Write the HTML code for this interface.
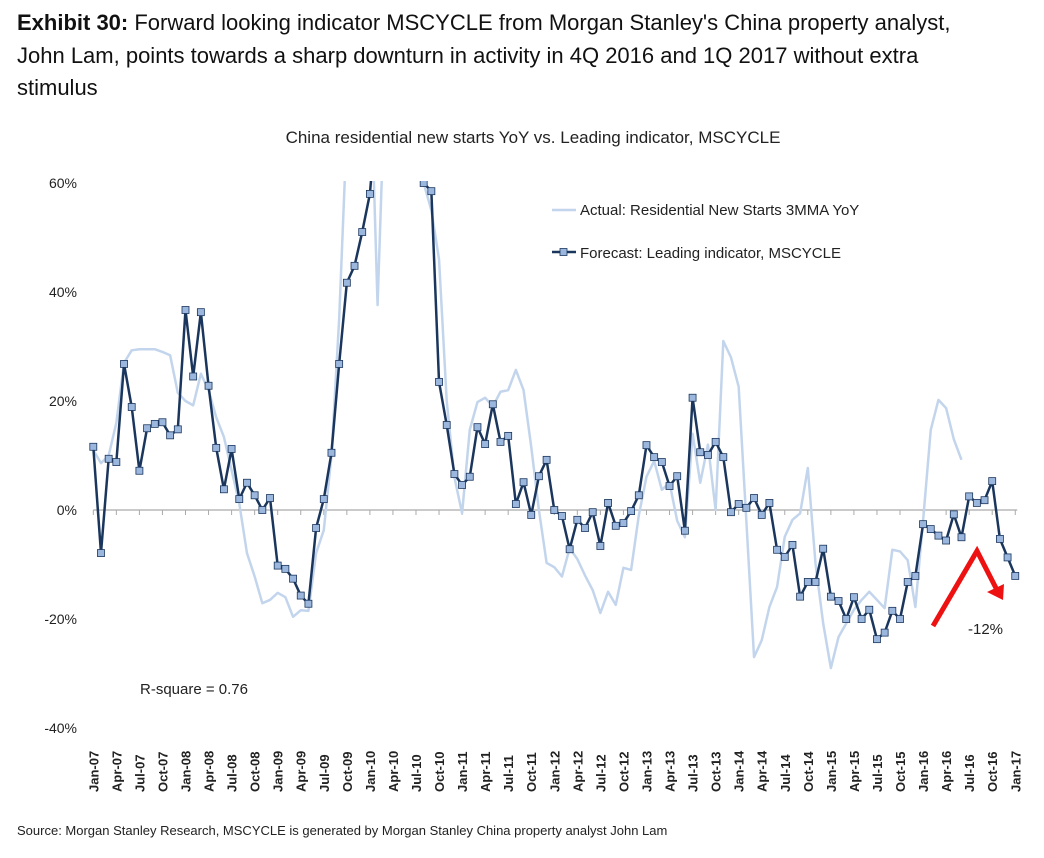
<!DOCTYPE html>
<html><head><meta charset="utf-8"><style>
body{margin:0;background:#fff;}
svg{display:block;font-family:"Liberation Sans",sans-serif;}
</style></head><body>
<svg id="chart" width="1044" height="858" viewBox="0 0 1044 858" xmlns="http://www.w3.org/2000/svg">
<defs><clipPath id="plotclip"><rect x="80" y="181" width="960" height="560"/></clipPath></defs>
<g font-size="22" fill="#111">
<text x="17" y="30"><tspan font-weight="bold">Exhibit 30:</tspan> Forward looking indicator MSCYCLE from Morgan Stanley's China property analyst,</text>
<text x="17" y="63">John Lam, points towards a sharp downturn in activity in 4Q 2016 and 1Q 2017 without extra</text>
<text x="17" y="95">stimulus</text>
</g>
<text x="533" y="143" font-size="17" text-anchor="middle" fill="#222">China residential new starts YoY vs. Leading indicator, MSCYCLE</text>
<g id="yaxis"></g>
<g id="xaxis"></g>
<g id="series" clip-path="url(#plotclip)"></g>
<g>
<g><line x1="552" y1="210" x2="576" y2="210" stroke="#c3d5ec" stroke-width="2.5"/><text x="580" y="215" font-size="15" fill="#222">Actual: Residential New Starts 3MMA YoY</text></g>
<g><line x1="552" y1="252" x2="576" y2="252" stroke="#1b365d" stroke-width="2.5"/><rect x="560" y="248.5" width="7" height="7" fill="#9bb7de" stroke="#1b365d" stroke-width="0.8"/><text x="580" y="258" font-size="15" fill="#222">Forecast: Leading indicator, MSCYCLE</text></g>
</g>
<text x="140" y="694" font-size="15" fill="#222">R-square = 0.76</text>
<g stroke="#ee1111" stroke-width="5" fill="none" stroke-linecap="butt">
<polyline points="933,626 977,551 998,592"/>
<polygon points="1003,600 987,592 1004,584" fill="#ee1111" stroke="none"/>
</g>
<text x="968" y="634" font-size="15" fill="#222">-12%</text>
<text x="17" y="835" font-size="13" fill="#222">Source: Morgan Stanley Research, MSCYCLE is generated by Morgan Stanley China property analyst John Lam</text>
</svg>
<script>
const yTicks=[60,40,20,0,-20,-40];
const monthNames=["Jan","Feb","Mar","Apr","May","Jun","Jul","Aug","Sep","Oct","Nov","Dec"];
const startYear=2007;
const forecast=[11.6,-7.9,9.4,8.8,26.8,18.9,7.2,15.0,15.8,16.1,13.7,14.8,
36.7,24.5,36.3,22.8,11.4,3.8,11.2,2.0,5.0,2.7,0,2.2,
-10.2,-10.8,-12.6,-15.7,-17.2,-3.3,2.0,10.5,26.8,41.7,44.8,51,
58,75,85,85,85,85,75,60,58.5,23.5,15.6,6.6,
4.6,6.1,15.2,12.1,19.4,12.5,13.6,1.1,5.1,-0.9,6.2,9.2,
0,-1.1,-7.2,-1.8,-3.3,-0.4,-6.6,1.3,-2.9,-2.4,-0.2,2.7,
11.9,9.7,8.8,4.4,6.2,-3.8,20.6,10.6,10.1,12.5,9.7,-0.4,
1.1,0.4,2.2,-0.9,1.3,-7.3,-8.6,-6.4,-15.9,-13.2,-13.2,-7.1,
-15.9,-16.7,-20,-16,-20,-18.3,-23.7,-22.5,-18.5,-20,-13.2,-12.1,
-2.6,-3.5,-4.7,-5.6,-0.8,-5.0,2.5,1.3,1.8,5.3,-5.3,-8.7,
-12.1];
const actual=[11,8.6,10,16,27,29.3,29.5,29.5,29.5,29,28.4,21.5,
20,19.2,25,22,17,13.4,7.3,1.2,-7.9,-12.2,-17.1,-16.5,
-15.2,-16,-19.6,-18.4,-18.5,-7.9,-3.7,10,35,70,85,85,
85,37.6,80,85,85,85,85,60,55,46,20,6,
-0.6,14.7,19.8,20.6,19,21.7,22,25.7,22,11.6,0,-9.7,
-10.5,-12.2,-7,-9,-12,-14.7,-18.9,-15,-17.4,-10.6,-11,-1,
6.1,9,3.7,5,-2,-5,14,5,12,0,31,28,
22.6,-2,-27,-23.9,-17.8,-14.1,-4.9,-1.8,-0.6,7.7,-9.8,-20.8,
-29,-23.3,-20.8,-18.3,-16.5,-15,-16.5,-18,-7.3,-7.6,-9.2,-17.8,
-2,14.7,20.2,18.7,13,9.2];
const NS="http://www.w3.org/2000/svg";
const X0=93.3,DX=7.683,Y0=510,YS=5.45;
const xs=i=>X0+i*DX, ys=v=>Y0-v*YS;
function mk(tag,attrs,parent){const e=document.createElementNS(NS,tag);for(const k in attrs)e.setAttribute(k,attrs[k]);parent.appendChild(e);return e;}
const ya=document.getElementById('yaxis');
yTicks.forEach(v=>{const t=mk('text',{x:77,y:ys(v)+5,'font-size':14,'text-anchor':'end',fill:'#222'},ya);t.textContent=v+'%';

});
const xa=document.getElementById('xaxis');
const zl=mk('line',{x1:xs(0),x2:xs(forecast.length-1)+2,y1:ys(0),y2:ys(0),stroke:'#aaa','stroke-width':1.3},xa);


for(let i=0;i<forecast.length;i+=3){
 const tk=mk('line',{x1:xs(i),x2:xs(i),y1:ys(0),y2:ys(0)+5,stroke:'#aaa','stroke-width':1},xa);
 
 
 const lab=monthNames[i%12]+'-'+String((startYear+Math.floor(i/12))%100).padStart(2,'0');
 const t=mk('text',{transform:'translate('+(xs(i)+5)+',792) rotate(-90)','font-size':13,'font-weight':'bold',fill:'#222'},xa);
 t.textContent=lab;
 
 
}
const sg=document.getElementById('series');
const pa=mk('polyline',{points:actual.map((v,i)=>xs(i)+','+ys(v)).join(' '),fill:'none',stroke:'#c3d5ec','stroke-width':2.5,'stroke-linejoin':'round'},sg);


const pf=mk('polyline',{points:forecast.map((v,i)=>xs(i)+','+ys(v)).join(' '),fill:'none',stroke:'#1b365d','stroke-width':2.5,'stroke-linejoin':'round'},sg);


forecast.forEach((v,i)=>{const r=mk('rect',{x:xs(i)-3.5,y:ys(v)-3.5,width:7,height:7,fill:'#9bb7de',stroke:'#1b365d','stroke-width':0.8},sg);

});
</script>
</body></html>
